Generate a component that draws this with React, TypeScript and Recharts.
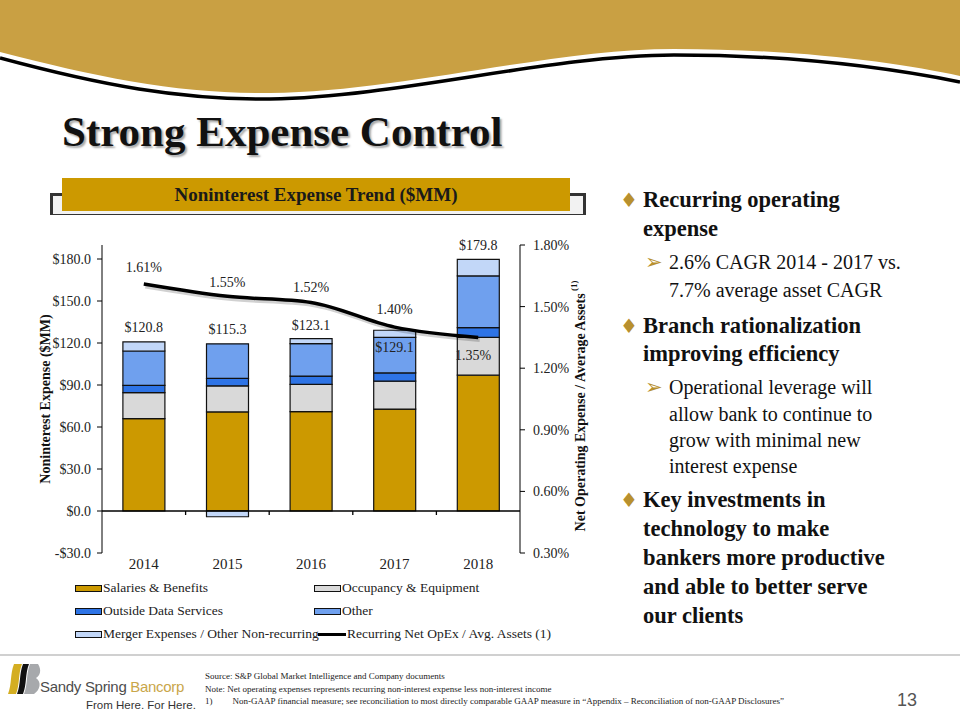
import React from "react";
import {
  ComposedChart,
  Bar,
  Line,
  XAxis,
  YAxis,
  ReferenceLine,
  LabelList,
} from "recharts";

// data ($MM and % of avg assets)
const years = ["2014", "2015", "2016", "2017", "2018"];
const salaries = [66.0, 70.8, 71.0, 72.8, 97.0];
const occupancy = [18.5, 18.6, 19.5, 19.9, 27.0];
const outsideData = [5.2, 5.3, 5.9, 5.9, 7.0];
const other = [24.6, 24.7, 23.1, 25.4, 36.9];
const merger = [6.5, -4.1, 3.6, 5.1, 11.9];
const totals = [120.8, 115.3, 123.1, 129.1, 179.8];
const opexRatio = [1.61, 1.55, 1.52, 1.4, 1.35];
const leftTicks = [-30, 0, 30, 60, 90, 120, 150, 180];
const rightTicks = [0.3, 0.6, 0.9, 1.2, 1.5, 1.8];

const legendItems = [
  { name: "Salaries & Benefits", color: "#CC9900", kind: "box" },
  { name: "Occupancy & Equipment", color: "#D9D9D9", kind: "box" },
  { name: "Outside Data Services", color: "#2E74E6", kind: "box" },
  { name: "Other", color: "#6FA0EE", kind: "box" },
  { name: "Merger Expenses / Other Non-recurring", color: "#C2D7F8", kind: "box" },
  { name: "Recurring Net OpEx / Avg. Assets (1)", color: "#000", kind: "line" },
];

// label nudges (px)
const totalDy = [-14, -14, -13, 17, -14];
const pctDy = [-17, -14, -15, -18, 18];
const pctDx = [0, 0, 0, 0, -5];

const SERIF = '"Liberation Serif", "Times New Roman", serif';
const SANS = '"Liberation Sans", Arial, sans-serif';
const GOLD = "#CC9900";

const rows = years.map((year, i) => ({
  year,
  salaries: salaries[i],
  occupancy: occupancy[i],
  outsideData: outsideData[i],
  other: other[i],
  merger: merger[i],
  total: totals[i],
  stackTop:
    salaries[i] + occupancy[i] + outsideData[i] + other[i] + Math.max(merger[i], 0),
  ratio: opexRatio[i],
}));

function pointOf(p: any) {
  const vb = p.viewBox || {};
  const x = p.x ?? vb.x ?? 0;
  const y = p.y ?? vb.y ?? 0;
  const w = p.width ?? vb.width ?? 0;
  return { cx: x + w / 2, cy: y };
}

function TotalLabel(p: any) {
  const { cx, cy } = pointOf(p);
  const i = p.index ?? 0;
  return (
    <text
      x={cx}
      y={cy + totalDy[i]}
      textAnchor="middle"
      dominantBaseline="central"
      fontFamily={SERIF}
      fontSize={14}
      fill="#222"
    >
      ${Number(p.value).toFixed(1)}
    </text>
  );
}

function PctLabel(p: any) {
  const { cx, cy } = pointOf(p);
  const i = p.index ?? 0;
  return (
    <text
      x={cx + pctDx[i]}
      y={cy + pctDy[i]}
      textAnchor="middle"
      dominantBaseline="central"
      fontFamily={SERIF}
      fontSize={14}
      fill="#222"
    >
      {Number(p.value).toFixed(2)}%
    </text>
  );
}

function ZeroLine(p: any) {
  const { x1, x2, y1 } = p;
  const step = (x2 - x1) / years.length;
  const marks = years.slice(1).map((_, i) => x1 + step * (i + 1));
  return (
    <g>
      <line x1={x1} x2={x2} y1={y1} y2={y1} stroke="#000" strokeWidth={1.3} />
      {marks.map((m) => (
        <line key={m} x1={m} x2={m} y1={y1} y2={y1 + 4} stroke="#000" strokeWidth={1.3} />
      ))}
    </g>
  );
}

function LeftTitle(p: any) {
  const vb = p.viewBox || { x: 20, y: 15, width: 82, height: 308 };
  const x = vb.x + 25;
  const y = vb.y + vb.height / 2;
  return (
    <text
      x={x}
      y={y}
      transform={`rotate(-90, ${x}, ${y})`}
      textAnchor="middle"
      dominantBaseline="central"
      fontFamily={SERIF}
      fontWeight="bold"
      fontSize={14}
      fill="#111"
    >
      Noninterest Expense ($MM)
    </text>
  );
}

function RightTitle(p: any) {
  const vb = p.viewBox || { x: 520, y: 15, width: 80, height: 308 };
  const x = vb.x + 60;
  const y = vb.y + vb.height / 2 + 7;
  return (
    <text
      x={x}
      y={y}
      transform={`rotate(-90, ${x}, ${y})`}
      textAnchor="middle"
      dominantBaseline="central"
      fontFamily={SERIF}
      fontWeight="bold"
      fontSize={14}
      fill="#111"
    >
      Net Operating Expense / Average Assets
      <tspan fontSize={9} dy={-6}> (1)</tspan>
    </text>
  );
}

function ExpenseChart() {
  return (
    <ComposedChart
      width={620}
      height={355}
      data={rows}
      stackOffset="sign"
      barCategoryGap="25%"
      margin={{ top: 15, right: 20, bottom: 0, left: 20 }}
    >
      <XAxis
        dataKey="year"
        axisLine={false}
        tickLine={false}
        tickSize={3}
        tickMargin={2}
        height={32}
        tick={{ fontFamily: SERIF, fontSize: 15, fill: "#222" }}
      />
      <YAxis
        yAxisId="left"
        width={82}
        domain={[-30, 190]}
        ticks={leftTicks}
        allowDataOverflow
        tickFormatter={(v: number) => (v < 0 ? `-$${Math.abs(v).toFixed(1)}` : `$${v.toFixed(1)}`)}
        stroke="#000"
        tickSize={5}
        tickMargin={6}
        tick={{ fontFamily: SERIF, fontSize: 14, fill: "#222" }}
        label={<LeftTitle />}
      />
      <YAxis
        yAxisId="right"
        orientation="right"
        width={80}
        domain={[0.3, 1.8]}
        ticks={rightTicks}
        allowDataOverflow
        tickFormatter={(v: number) => `${v.toFixed(2)}%`}
        stroke="#000"
        tickSize={5}
        tickMargin={8}
        tick={{ fontFamily: SERIF, fontSize: 14, fill: "#222" }}
        label={<RightTitle />}
      />
      <Bar yAxisId="left" dataKey="salaries" stackId="a" fill="#CC9900" stroke="#111" strokeWidth={1.2} isAnimationActive={false} />
      <Bar yAxisId="left" dataKey="occupancy" stackId="a" fill="#D9D9D9" stroke="#111" strokeWidth={1.2} isAnimationActive={false} />
      <Bar yAxisId="left" dataKey="outsideData" stackId="a" fill="#2E74E6" stroke="#111" strokeWidth={1.2} isAnimationActive={false} />
      <Bar yAxisId="left" dataKey="other" stackId="a" fill="#6FA0EE" stroke="#111" strokeWidth={1.2} isAnimationActive={false} />
      <Bar yAxisId="left" dataKey="merger" stackId="a" fill="#C2D7F8" stroke="#111" strokeWidth={1.2} isAnimationActive={false} />
      <ReferenceLine yAxisId="left" y={0} shape={ZeroLine} />
      <Line
        yAxisId="left"
        dataKey="stackTop"
        stroke="none"
        dot={false}
        activeDot={false}
        legendType="none"
        isAnimationActive={false}
      >
        <LabelList dataKey="total" content={TotalLabel} />
      </Line>
      <Line
        yAxisId="right"
        dataKey="ratio"
        type="monotone"
        stroke="rgba(0,0,0,0.18)"
        strokeWidth={4}
        transform="translate(1.5,2.5)"
        dot={false}
        activeDot={false}
        legendType="none"
        isAnimationActive={false}
      />
      <Line
        yAxisId="right"
        dataKey="ratio"
        type="monotone"
        stroke="#000"
        strokeWidth={3.5}
        dot={false}
        activeDot={false}
        isAnimationActive={false}
      >
        <LabelList dataKey="ratio" content={PctLabel} />
      </Line>
    </ComposedChart>
  );
}

function ChartLegend() {
  return (
    <div style={{ position: "absolute", left: 75, top: 578, width: 520, fontFamily: SERIF, fontSize: 13.5, color: "#222" }}>
      {legendItems.map((item, i) => {
        const col = i % 2;
        const row = Math.floor(i / 2);
        return (
          <div
            key={item.name}
            style={{
              position: "absolute",
              left: col === 0 ? 0 : 239,
              top: row * 23,
              height: 20,
              display: "flex",
              alignItems: "center",
              whiteSpace: "nowrap",
            }}
          >
            {item.kind === "box" ? (
              <span style={{ display: "inline-block", width: 25, height: 5, background: item.color, border: "1.5px solid #111", marginRight: 1 }} />
            ) : (
              <span style={{ display: "inline-block", width: 28, height: 3, background: "#000", marginRight: 1, marginLeft: 4 }} />
            )}
            <span>{item.name}</span>
          </div>
        );
      })}
    </div>
  );
}

const bulletLines = [
  { t: "Recurring operating", y: 200, bold: true, mark: "♦" },
  { t: "expense", y: 229, bold: true },
  { t: "2.6% CAGR 2014 - 2017 vs.", y: 262, bold: false, mark: "➢" },
  { t: "7.7% average asset CAGR", y: 290, bold: false },
  { t: "Branch rationalization", y: 326, bold: true, mark: "♦" },
  { t: "improving efficiency", y: 354, bold: true },
  { t: "Operational leverage will", y: 387, bold: false, mark: "➢" },
  { t: "allow bank to continue to", y: 414, bold: false },
  { t: "grow with minimal new", y: 440, bold: false },
  { t: "interest expense", y: 466, bold: false },
  { t: "Key investments in", y: 500, bold: true, mark: "♦" },
  { t: "technology to make", y: 529, bold: true },
  { t: "bankers more productive", y: 558, bold: true },
  { t: "and able to better serve", y: 587, bold: true },
  { t: "our clients", y: 616, bold: true },
];

function Bullets() {
  return (
    <>
      {bulletLines.map((l) => (
        <React.Fragment key={l.t}>
          {l.mark && (
            <div
              style={{
                position: "absolute",
                left: l.bold ? 620 : 645,
                top: l.y - 14,
                height: 28,
                lineHeight: "28px",
                fontSize: l.bold ? 20 : 21,
                color: "#B8902E",
                fontFamily: '"DejaVu Sans", sans-serif',
              }}
            >
              {l.mark}
            </div>
          )}
          <div
            style={{
              position: "absolute",
              left: l.bold ? 643 : 669,
              top: l.y - 14,
              height: 28,
              lineHeight: "28px",
              fontFamily: SERIF,
              fontWeight: l.bold ? "bold" : "normal",
              fontSize: l.bold ? 22.5 : 20,
              color: "#111",
              whiteSpace: "nowrap",
            }}
          >
            {l.t}
          </div>
        </React.Fragment>
      ))}
    </>
  );
}

export default function App() {
  return (
    <div style={{ position: "absolute", left: 0, top: 0, width: 960, height: 720, overflow: "hidden", background: "#fff" }}>
      {/* top banner */}
      <svg width={960} height={120} style={{ position: "absolute", left: 0, top: 0 }}>
        <path
          d="M0,0 H960 V76 C900,63 800,49 674,49 C550,49 400,92 270,93 C180,94 100,78 0,52 Z"
          fill="#C9A043"
        />
        <path
          d="M0,58 C100,85 180,100 270,99 C400,97 550,55 674,55 C800,55 900,70 960,82"
          fill="none"
          stroke="#000"
          strokeWidth={3.5}
        />
      </svg>

      <div
        style={{
          position: "absolute",
          left: 62,
          top: 111,
          fontFamily: SERIF,
          fontWeight: "bold",
          fontSize: 43,
          lineHeight: "42px",
          color: "#111",
          whiteSpace: "nowrap",
          textShadow: "2px 2px 2px rgba(0,0,0,0.35)",
        }}
      >
        Strong Expense Control
      </div>

      {/* chart header */}
      <div style={{ position: "absolute", left: 50, top: 193, width: 530, height: 18, border: "3px solid #333", borderBottomWidth: 1, background: "#F2F2F2" }} />
      <div
        style={{
          position: "absolute",
          left: 62,
          top: 178,
          width: 508,
          height: 33,
          background: GOLD,
          display: "flex",
          alignItems: "center",
          justifyContent: "center",
          fontFamily: SERIF,
          fontWeight: "bold",
          fontSize: 19,
          color: "#1a1a1a",
        }}
      >
        Noninterest Expense Trend ($MM)
      </div>

      <div style={{ position: "absolute", left: 0, top: 230 }}>
        <ExpenseChart />
      </div>
      <ChartLegend />

      <Bullets />

      {/* footer */}
      <div style={{ position: "absolute", left: 0, top: 654, width: 960, height: 2, background: "#D0D0D0" }} />
      <svg width={40} height={40} style={{ position: "absolute", left: 6, top: 660 }}>
        <path d="M8,4 L16,4 C12,14 14,24 10,34 L2,34 C6,24 4,14 8,4 Z" fill="#D4AE22" />
        <path d="M17,4 L23,4 C19,14 21,24 17,34 L11,34 C15,24 13,14 17,4 Z" fill="#111" />
        <path d="M24,4 L32,4 C36,10 34,16 30,18 C36,22 34,30 28,34 L18,34 C22,24 20,14 24,4 Z" fill="#A7A9AC" />
      </svg>
      <div style={{ position: "absolute", left: 40, top: 678, fontFamily: SANS, fontSize: 15, lineHeight: "18px", letterSpacing: -0.3, color: "#4D4D4D", whiteSpace: "nowrap" }}>
        Sandy Spring <span style={{ color: "#C9A64A" }}>Bancorp</span>
      </div>
      <div style={{ position: "absolute", left: 86, top: 698, fontFamily: SANS, fontSize: 11.5, lineHeight: "14px", color: "#333", whiteSpace: "nowrap" }}>
        From Here. For Here.
      </div>
      <div style={{ position: "absolute", left: 205, top: 670, fontFamily: SERIF, fontSize: 9, lineHeight: "12.5px", color: "#222", whiteSpace: "nowrap" }}>
        <div>Source: S&amp;P Global Market Intelligence and Company documents</div>
        <div>Note: Net operating expenses represents recurring non-interest expense less non-interest income</div>
        <div>
          1)<span style={{ display: "inline-block", width: 20 }} />
          Non-GAAP financial measure; see reconciliation  to most directly comparable GAAP measure in “Appendix – Reconciliation of non-GAAP Disclosures”
        </div>
      </div>
      <div style={{ position: "absolute", left: 897, top: 689, fontFamily: SANS, fontSize: 18, lineHeight: "22px", color: "#555" }}>
        13
      </div>
    </div>
  );
}
